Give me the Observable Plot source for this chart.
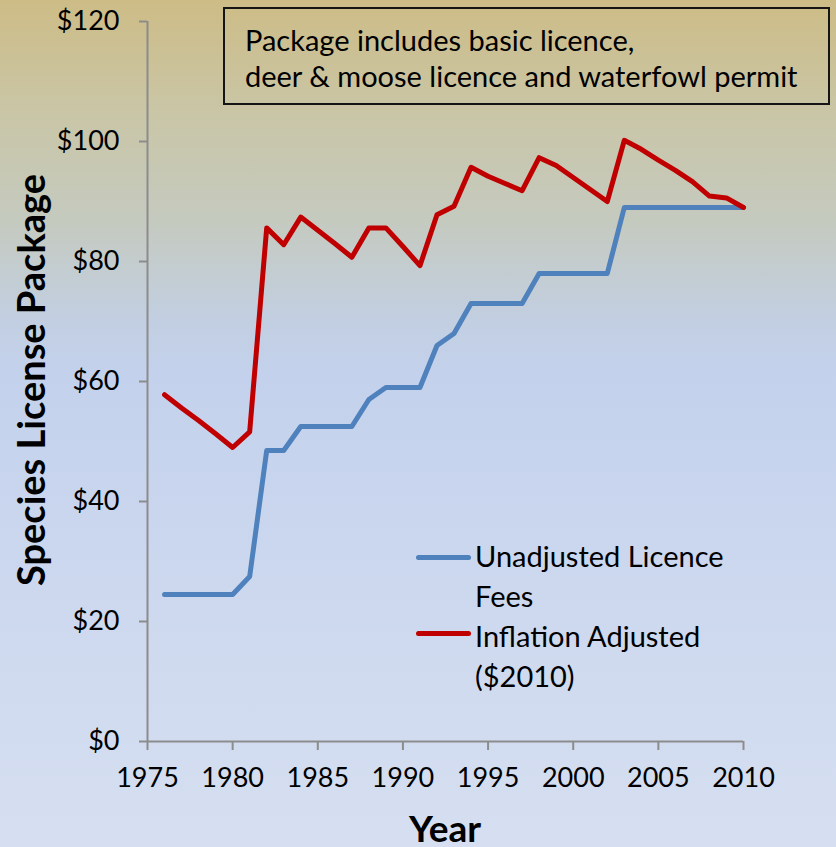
<!DOCTYPE html>
<html>
<head>
<meta charset="utf-8">
<script src="https://cdn.jsdelivr.net/npm/d3@7"></script>
<script src="https://cdn.jsdelivr.net/npm/@observablehq/plot@0.6"></script>
<style>
  html, body { margin: 0; padding: 0; overflow: hidden; }
  #wrap {
    position: relative; width: 836px; height: 847px; overflow: hidden;
    font-family: Lato, "Open Sans", sans-serif; color: #000;
    background: linear-gradient(to bottom, #cdbc86 0%, #c9c6a8 14%, #c5cabf 26%, #c2cfe2 38%, #c3d1ec 44%, #cbd7ee 65%, #d6dff1 100%);
  }
  #wrap svg { position: absolute; left: 0; top: 0; }
  .note {
    position: absolute; left: 223px; top: 7px; width: 607px; height: 98px; box-sizing: border-box;
    border: 2px solid #151515; padding: 13px 0 0 20px; font-size: 29px; line-height: 36px; white-space: nowrap;
  }
  .ytitle {
    position: absolute; left: 30px; top: 380px; transform: translate(-50%, -50%) rotate(-90deg);
    font-size: 38px; font-weight: 700; line-height: 38px; white-space: nowrap;
  }
  .xtitle {
    position: absolute; left: 445px; top: 809px; transform: translateX(-50%);
    font-size: 37px; font-weight: 700; line-height: 37px; white-space: nowrap;
  }
  .legend-text {
    position: absolute; left: 475px; top: 536px; font-size: 29px; line-height: 40px; white-space: nowrap;
  }
  .swatch { position: absolute; left: 416px; width: 55px; height: 5px; border-radius: 3px; }
</style>
</head>
<body>
<div id="wrap"></div>
<script>
const years = [1976,1977,1978,1979,1980,1981,1982,1983,1984,1985,1986,1987,1988,1989,1990,1991,1992,1993,1994,1995,1996,1997,1998,1999,2000,2001,2002,2003,2004,2005,2006,2007,2008,2009,2010];
const unadjusted = [24.5,24.5,24.5,24.5,24.5,27.5,48.5,48.5,52.5,52.5,52.5,52.5,57,59,59,59,66,68,73,73,73,73,78,78,78,78,78,89,89,89,89,89,89,89,89];
const adjusted = [57.8,55.6,53.5,51.3,49.0,51.6,85.6,82.8,87.4,85.2,83.0,80.7,85.6,85.6,82.5,79.3,87.8,89.2,95.7,94.2,93.0,91.8,97.3,96.0,94.0,92.0,90.0,100.2,98.7,96.9,95.2,93.3,90.9,90.6,89.0];
const seriesNames = ["Unadjusted Licence Fees", "Inflation Adjusted ($2010)"];
const seriesColors = ["#4f81bd", "#c00000"];
const xTicks = [1975,1980,1985,1990,1995,2000,2005,2010];
const yTicks = [0,20,40,60,80,100,120];
const xTitle = "Year";
const yTitle = "Species License Package";
const noteLines = ["Package includes basic licence,", "deer & moose licence and waterfowl permit"];
const legendLines = [["Unadjusted Licence", "Fees"], ["Inflation Adjusted", "($2010)"]];

const unadjData = years.map((y, i) => ({year: y, value: unadjusted[i]}));
const adjData = years.map((y, i) => ({year: y, value: adjusted[i]}));

const chart = Plot.plot({
  width: 836,
  height: 847,
  marginLeft: 147,
  marginRight: 93,
  marginTop: 21,
  marginBottom: 106,
  style: {background: "transparent", fontFamily: "Lato, 'Open Sans', sans-serif", fontSize: "27px", color: "#000", overflow: "visible"},
  x: {domain: [1975, 2010]},
  y: {domain: [0, 120]},
  marks: [
    Plot.axisY({ticks: yTicks, tickFormat: d => "$" + d, tickSize: 8, tickPadding: 20, stroke: "#8c8c8c", strokeWidth: 2, label: null}),
    Plot.axisX({ticks: xTicks, tickFormat: d => String(d), tickSize: 9, tickPadding: 17, stroke: "#8c8c8c", strokeWidth: 2, label: null}),
    Plot.ruleY([0], {stroke: "#8c8c8c", strokeWidth: 2}),
    Plot.ruleX([1975], {stroke: "#8c8c8c", strokeWidth: 2}),
    Plot.line(unadjData, {x: "year", y: "value", stroke: seriesColors[0], strokeWidth: 5, strokeLinejoin: "round", strokeLinecap: "round"}),
    Plot.line(adjData, {x: "year", y: "value", stroke: seriesColors[1], strokeWidth: 5, strokeLinejoin: "round", strokeLinecap: "round"})
  ]
});

const wrap = document.getElementById("wrap");
wrap.appendChild(chart);

const note = document.createElement("div");
note.className = "note";
note.innerHTML = noteLines.map(t => `<div>${t.replace(/&/g, "&amp;")}</div>`).join("");
wrap.appendChild(note);

const yt = document.createElement("div");
yt.className = "ytitle"; yt.textContent = yTitle; wrap.appendChild(yt);
const xt = document.createElement("div");
xt.className = "xtitle"; xt.textContent = xTitle; wrap.appendChild(xt);

const lt = document.createElement("div");
lt.className = "legend-text";
lt.innerHTML = legendLines.map(l => l.map(s => `<div>${s}</div>`).join("")).join("");
wrap.appendChild(lt);
seriesColors.forEach((c, i) => {
  const s = document.createElement("div");
  s.className = "swatch";
  s.style.background = c;
  s.style.top = (554.5 + i * 76) + "px";
  s.title = seriesNames[i];
  wrap.appendChild(s);
});
</script>
</body>
</html>
